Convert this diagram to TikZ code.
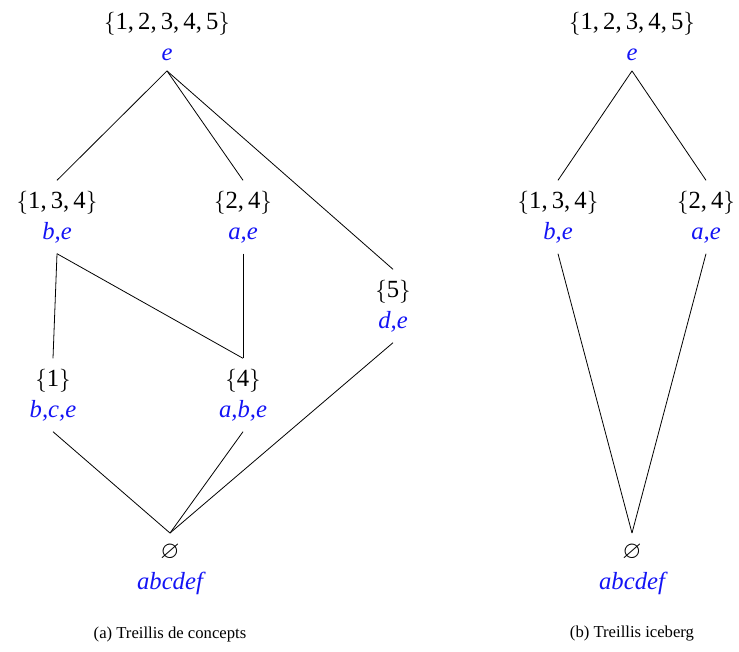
\documentclass[tikz,border=0pt]{standalone}
\usepackage{amssymb}
\usepackage{fontspec}
\setmainfont{Liberation Serif}
\newcommand{\cset}[1]{$\{$#1$\}$}
\newcommand{\att}[1]{\textcolor{attblue}{\itshape #1}}
\definecolor{attblue}{RGB}{20,20,245}
\begin{document}
\begin{tikzpicture}[x=0.75pt,y=-0.75pt,
  concept/.style={align=center,inner sep=0pt,outer ysep=8pt,font=\fontsize{18.5}{23.25}\selectfont},
  edge/.style={line width=0.6pt},
  caption/.style={font=\fontsize{12.5}{15}\selectfont}]
\useasboundingbox (0,0) rectangle (739,651);
% left lattice
\node[concept] (a0) at (167,36) {\cset{1,\,2,\,3,\,4,\,5}\\\att{e}};
\node[concept] (a134) at (57,217) {\cset{1,\,3,\,4}\\\att{b,e}};
\node[concept] (a24) at (243,217) {\cset{2,\,4}\\\att{a,e}};
\node[concept] (a5) at (393,306) {\cset{5}\\\att{d,e}};
\node[concept] (a1) at (53,395) {\cset{1}\\\att{b,c,e}};
\node[concept] (a4) at (243,395) {\cset{4}\\\att{a,b,e}};
\node[concept] (abot) at (170,569) {$\varnothing$\\\att{abcdef}};
\draw[edge] (a0.south) -- (a134.north);
\draw[edge] (a0.south) -- (a24.north);
\draw[edge] (a0.south) -- (a5.north);
\draw[edge] (a134.south) -- (a1.north);
\draw[edge] (a134.south) -- (a4.north);
\draw[edge] (a24.south) -- (a4.north);
\draw[edge] (a1.south) -- (abot.north);
\draw[edge] (a4.south) -- (abot.north);
\draw[edge] (a5.south) -- (abot.north);
\node[caption] (capa) at (170,634) {(a) Treillis de concepts};
% right lattice
\node[concept] (b0) at (632,36) {\cset{1,\,2,\,3,\,4,\,5}\\\att{e}};
\node[concept] (b134) at (558,217) {\cset{1,\,3,\,4}\\\att{b,e}};
\node[concept] (b24) at (706,217) {\cset{2,\,4}\\\att{a,e}};
\node[concept] (bbot) at (632,569) {$\varnothing$\\\att{abcdef}};
\draw[edge] (b0.south) -- (b134.north);
\draw[edge] (b0.south) -- (b24.north);
\draw[edge] (b134.south) -- (bbot.north);
\draw[edge] (b24.south) -- (bbot.north);
\node[caption] (capb) at (632,634) {(b) Treillis iceberg};
\end{tikzpicture}
\end{document}
